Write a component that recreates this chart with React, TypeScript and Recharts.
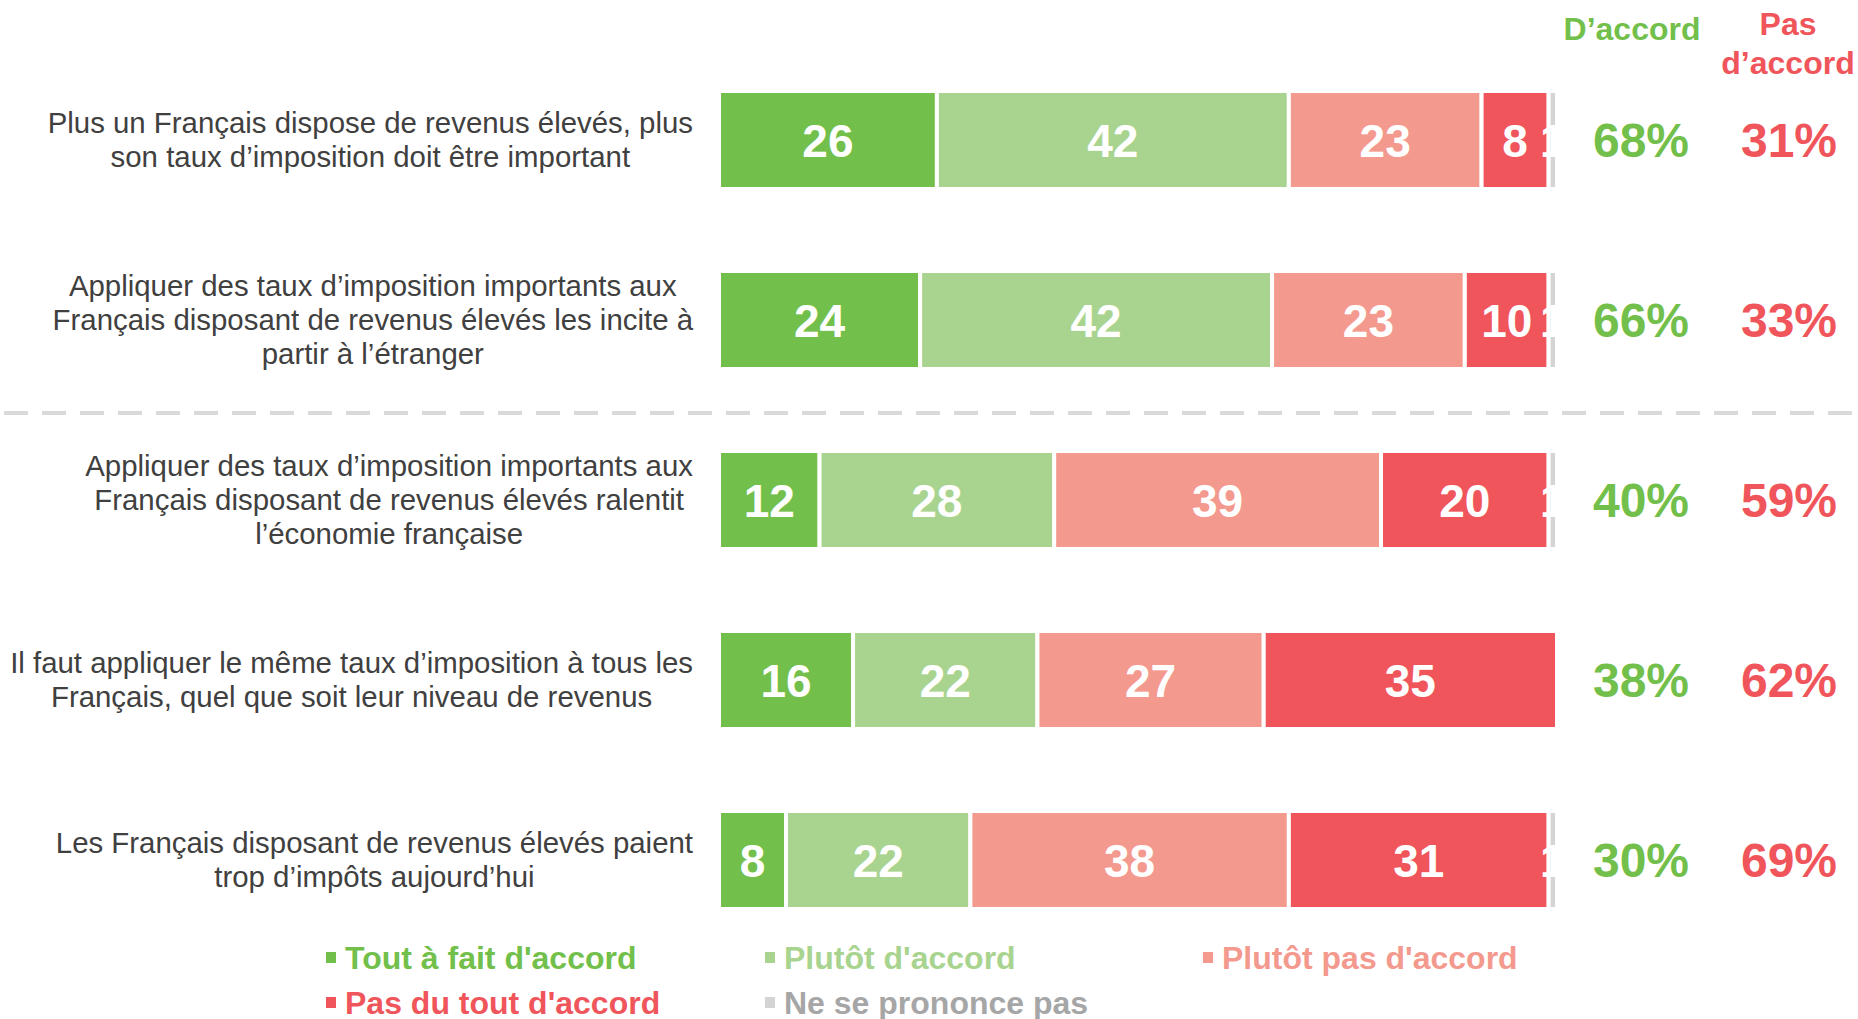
import React from 'react';
import { BarChart, Bar, XAxis, YAxis, LabelList } from 'recharts';

// statements (line breaks as in the original slide)
const questions = [
  'Plus un Français dispose de revenus élevés, plus\nson taux d’imposition doit être important',
  'Appliquer des taux d’imposition importants aux\nFrançais disposant de revenus élevés les incite à\npartir à l’étranger',
  'Appliquer des taux d’imposition importants aux\nFrançais disposant de revenus élevés ralentit\nl’économie française',
  'Il faut appliquer le même taux d’imposition à tous les\nFrançais, quel que soit leur niveau de revenus',
  'Les Français disposant de revenus élevés paient\ntrop d’impôts aujourd’hui',
];

const toutAFait = [26, 24, 12, 16, 8];
const plutotDaccord = [42, 42, 28, 22, 22];
const plutotPas = [23, 23, 39, 27, 38];
const pasDuTout = [8, 10, 20, 35, 31];
const nspp = [1, 1, 1, 0, 1];

const seriesKeys = ['tout', 'plutot', 'plutotPas', 'pasDuTout', 'nspp'];
const seriesNames = [
  "Tout à fait d'accord",
  "Plutôt d'accord",
  "Plutôt pas d'accord",
  "Pas du tout d'accord",
  'Ne se prononce pas',
];
const colors = ['#72BF4B', '#A9D48F', '#F4998E', '#F0555B', '#D4D4D4'];
const legendText = ['#72BF4B', '#A9D48F', '#F4998E', '#F0555B', '#A6A6A6'];

const FONT = '"Liberation Sans", Arial, sans-serif';

const chartData = questions.map((q, i) => ({
  question: q,
  tout: toutAFait[i],
  plutot: plutotDaccord[i],
  plutotPas: plutotPas[i],
  pasDuTout: pasDuTout[i],
  nspp: nspp[i],
}));

let ctx: CanvasRenderingContext2D | null = null;
const measure = (text: string, font: string) => {
  if (!ctx) ctx = document.createElement('canvas').getContext('2d');
  if (!ctx) return text.length * 14;
  ctx.font = font;
  return ctx.measureText(text).width;
};

const LeftTick = (props: any) => {
  const { y, payload } = props;
  const lines = String(payload.value).split('\n');
  const w = Math.max(...lines.map((l) => measure(l, `29.4px ${FONT}`)));
  const cx = 693 - w / 2;
  const lh = 34;
  const y0 = y - ((lines.length - 1) * lh) / 2 + 10;
  return (
    <text textAnchor="middle" fill="#404040" fontSize={29.4} fontFamily={FONT}>
      {lines.map((l, i) => (
        <tspan key={i} x={cx} y={y0 + i * lh}>
          {l}
        </tspan>
      ))}
    </text>
  );
};

const RightTick = (props: any) => {
  const { y, index } = props;
  const accord = toutAFait[index] + plutotDaccord[index];
  const pas = plutotPas[index] + pasDuTout[index];
  return (
    <g fontFamily={FONT} fontWeight="bold" fontSize={48}>
      <text x={1641} y={y + 17} textAnchor="middle" fill={colors[0]}>
        {accord}%
      </text>
      <text x={1789} y={y + 17} textAnchor="middle" fill={colors[3]}>
        {pas}%
      </text>
    </g>
  );
};

const BarLabel = (props: any) => {
  const { x, y, width, height, value } = props;
  if (!value) return null;
  return (
    <text
      x={x + width / 2}
      y={y + height / 2 + 16.5}
      textAnchor="middle"
      fill="#fff"
      fontFamily={FONT}
      fontWeight="bold"
      fontSize={46}
    >
      {value}
    </text>
  );
};

const legendPos = [
  { x: 326, y: 958 },
  { x: 765, y: 958 },
  { x: 1203, y: 958 },
  { x: 326, y: 1003 },
  { x: 765, y: 1003 },
];

export default function App() {
  return (
    <div style={{ position: 'absolute', left: 0, top: 0, width: 1858, height: 1019, background: '#fff' }}>
      <BarChart
        width={1858}
        height={1019}
        data={chartData}
        layout="vertical"
        margin={{ top: 50, right: 0, bottom: 69, left: 0 }}
      >
        <XAxis type="number" domain={[0, 100]} hide />
        <YAxis
          yAxisId="left"
          type="category"
          dataKey="question"
          width={719}
          axisLine={false}
          tickLine={false}
          tick={<LeftTick />}
          interval={0}
        />
        <YAxis
          yAxisId="right"
          orientation="right"
          type="category"
          dataKey="question"
          width={301}
          axisLine={false}
          tickLine={false}
          tick={<RightTick />}
          interval={0}
        />
        {seriesKeys.map((k, i) => (
          <Bar
            key={k}
            yAxisId="left"
            dataKey={k}
            name={seriesNames[i]}
            stackId="a"
            fill={colors[i]}
            stroke="#fff"
            strokeWidth={4}
            barSize={98}
            isAnimationActive={false}
          >
            <LabelList dataKey={k} content={<BarLabel />} />
          </Bar>
        ))}
      </BarChart>

      <svg
        width={1858}
        height={1019}
        style={{ position: 'absolute', left: 0, top: 0, pointerEvents: 'none' }}
        fontFamily={FONT}
      >
        {/* column headers */}
        <text x={1632} y={40} textAnchor="middle" fontWeight="bold" fontSize={32} fill={colors[0]}>
          D’accord
        </text>
        <text x={1788} y={35} textAnchor="middle" fontWeight="bold" fontSize={32} fill={colors[3]}>
          Pas
        </text>
        <text x={1788} y={74} textAnchor="middle" fontWeight="bold" fontSize={32} fill={colors[3]}>
          d’accord
        </text>

        {/* separator */}
        <line x1={4} x2={1858} y1={413} y2={413} stroke="#D9D9D9" strokeWidth={4} strokeDasharray="24 14" />

        {/* legend */}
        {seriesNames.map((n, i) => (
          <g key={n}>
            <rect x={legendPos[i].x} y={legendPos[i].y - 6} width={10} height={11} fill={colors[i]} />
            <text
              x={legendPos[i].x + 19}
              y={legendPos[i].y + 11}
              fontWeight="bold"
              fontSize={32}
              fill={legendText[i]}
            >
              {n}
            </text>
          </g>
        ))}
      </svg>
    </div>
  );
}
